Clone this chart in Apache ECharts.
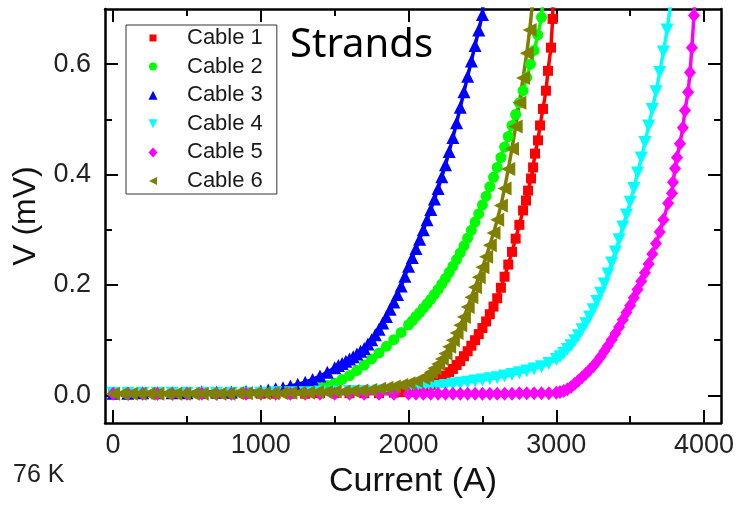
<!DOCTYPE html>
<html>
<head>
<meta charset="utf-8">
<script src="https://cdn.jsdelivr.net/npm/echarts@6/dist/echarts.min.js"></script>
<style>
  html, body { margin: 0; padding: 0; background: #fff; }
  #chart { width: 743px; height: 505px; }
</style>
</head>
<body>
<div id="chart"></div>
<script>
// V–I transition curves of six cables at 76 K: [current (A), voltage (mV)]
const seriesNames = ['Cable 1', 'Cable 2', 'Cable 3', 'Cable 4', 'Cable 5', 'Cable 6'];

const cable1 = [[0,0.003],[100,0.003],[200,0.003],[300,0.003],[400,0.003],[500,0.003],[600,0.003],[700,0.003],[800,0.003],[900,0.003],[1000,0.003],[1100,0.003],[1200,0.003],[1300,0.003],[1400,0.004],[1500,0.004],[1600,0.004],[1700,0.004],[1800,0.004],[1900,0.005],[1950,0.006],[2000,0.007],[2050,0.010],[2100,0.013],[2150,0.019],[2200,0.027],[2225,0.031],[2250,0.036],[2275,0.042],[2300,0.048],[2325,0.055],[2350,0.062],[2375,0.071],[2400,0.080],[2425,0.090],[2450,0.100],[2475,0.111],[2500,0.122],[2525,0.134],[2550,0.147],[2575,0.161],[2600,0.176],[2625,0.195],[2650,0.215],[2675,0.237],[2700,0.260],[2725,0.284],[2750,0.309],[2775,0.335],[2795,0.353],[2809,0.371],[2829,0.393],[2843,0.413],[2856,0.438],[2876,0.462],[2890,0.489],[2910,0.519],[2930,0.552],[2944,0.588],[2964,0.630],[2975,0.682],[2982,0.740]];

const cable2 = [[0,0.004],[100,0.004],[200,0.004],[300,0.004],[400,0.005],[500,0.005],[600,0.005],[700,0.005],[800,0.006],[900,0.006],[1000,0.006],[1100,0.007],[1200,0.008],[1300,0.009],[1350,0.011],[1400,0.014],[1450,0.018],[1500,0.022],[1550,0.029],[1600,0.036],[1650,0.045],[1700,0.055],[1750,0.066],[1800,0.077],[1850,0.089],[1900,0.101],[1950,0.114],[2000,0.128],[2025,0.135],[2050,0.143],[2075,0.150],[2100,0.158],[2125,0.166],[2150,0.174],[2175,0.183],[2200,0.192],[2225,0.202],[2250,0.212],[2275,0.223],[2300,0.234],[2325,0.246],[2350,0.258],[2375,0.271],[2400,0.285],[2425,0.299],[2450,0.314],[2475,0.329],[2500,0.345],[2525,0.361],[2550,0.378],[2575,0.395],[2600,0.413],[2625,0.431],[2650,0.450],[2675,0.469],[2700,0.489],[2725,0.509],[2750,0.530],[2775,0.552],[2800,0.576],[2825,0.600],[2850,0.625],[2875,0.653],[2900,0.685],[2915,0.740]];

const cable3 = [[0,0.004],[100,0.004],[200,0.005],[300,0.005],[400,0.005],[500,0.005],[600,0.006],[700,0.006],[800,0.006],[900,0.007],[1000,0.008],[1050,0.010],[1100,0.012],[1150,0.014],[1200,0.017],[1250,0.020],[1300,0.024],[1350,0.029],[1400,0.035],[1450,0.042],[1500,0.050],[1525,0.054],[1550,0.058],[1575,0.062],[1600,0.066],[1625,0.070],[1650,0.075],[1675,0.080],[1700,0.085],[1725,0.093],[1750,0.101],[1775,0.110],[1800,0.120],[1825,0.131],[1850,0.143],[1875,0.156],[1900,0.169],[1925,0.183],[1950,0.198],[1975,0.216],[2000,0.234],[2025,0.250],[2050,0.266],[2075,0.283],[2100,0.300],[2125,0.318],[2150,0.337],[2175,0.356],[2200,0.375],[2225,0.396],[2250,0.418],[2275,0.442],[2300,0.467],[2325,0.494],[2350,0.522],[2375,0.550],[2400,0.578],[2425,0.606],[2450,0.634],[2475,0.662],[2500,0.690],[2510,0.740]];

const cable4 = [[0,0.004],[100,0.004],[200,0.004],[300,0.004],[400,0.004],[500,0.004],[600,0.004],[700,0.004],[800,0.004],[900,0.004],[1000,0.004],[1100,0.005],[1200,0.005],[1300,0.005],[1400,0.006],[1500,0.006],[1600,0.007],[1700,0.007],[1800,0.008],[1900,0.009],[2000,0.010],[2050,0.011],[2100,0.013],[2150,0.014],[2200,0.016],[2250,0.018],[2300,0.020],[2350,0.022],[2400,0.024],[2450,0.026],[2500,0.028],[2550,0.030],[2600,0.032],[2650,0.035],[2700,0.038],[2750,0.041],[2800,0.044],[2850,0.048],[2900,0.052],[2950,0.058],[3000,0.065],[3025,0.070],[3050,0.076],[3075,0.083],[3100,0.090],[3125,0.099],[3150,0.108],[3175,0.119],[3200,0.130],[3225,0.142],[3250,0.155],[3275,0.170],[3300,0.185],[3325,0.202],[3350,0.220],[3375,0.240],[3400,0.260],[3425,0.282],[3450,0.305],[3475,0.327],[3500,0.350],[3525,0.375],[3550,0.403],[3575,0.430],[3600,0.458],[3625,0.488],[3650,0.518],[3675,0.550],[3700,0.585],[3725,0.622],[3750,0.662],[3790,0.740]];

const cable5 = [[0,0.003],[100,0.003],[200,0.003],[300,0.003],[400,0.003],[500,0.003],[600,0.003],[700,0.003],[800,0.003],[900,0.003],[1000,0.003],[1100,0.003],[1200,0.003],[1300,0.003],[1400,0.003],[1500,0.003],[1600,0.003],[1700,0.003],[1800,0.003],[1900,0.003],[2000,0.003],[2050,0.003],[2100,0.003],[2150,0.003],[2200,0.003],[2250,0.003],[2300,0.003],[2350,0.003],[2400,0.003],[2450,0.003],[2500,0.003],[2550,0.003],[2600,0.003],[2650,0.003],[2700,0.003],[2750,0.004],[2800,0.004],[2850,0.004],[2900,0.004],[2950,0.004],[3000,0.005],[3025,0.006],[3050,0.008],[3075,0.011],[3100,0.015],[3125,0.021],[3150,0.027],[3175,0.033],[3200,0.039],[3225,0.046],[3250,0.053],[3275,0.061],[3300,0.070],[3325,0.080],[3350,0.090],[3375,0.101],[3400,0.112],[3425,0.124],[3450,0.137],[3475,0.150],[3500,0.163],[3525,0.177],[3550,0.192],[3575,0.207],[3600,0.222],[3625,0.238],[3650,0.256],[3675,0.275],[3700,0.296],[3725,0.318],[3757,0.348],[3783,0.366],[3790,0.386],[3804,0.411],[3817,0.431],[3837,0.456],[3857,0.485],[3871,0.516],[3892,0.549],[3905,0.585],[3918,0.630],[3932,0.688],[3945,0.750]];

const cable6 = [[0,0.003],[60,0.003],[120,0.003],[180,0.003],[240,0.003],[300,0.003],[360,0.003],[420,0.003],[480,0.003],[540,0.003],[600,0.003],[660,0.003],[720,0.003],[780,0.003],[840,0.004],[900,0.004],[960,0.004],[1020,0.004],[1080,0.004],[1140,0.004],[1200,0.005],[1260,0.005],[1320,0.005],[1380,0.006],[1440,0.006],[1500,0.007],[1560,0.007],[1620,0.008],[1680,0.009],[1740,0.010],[1800,0.012],[1850,0.014],[1900,0.016],[1950,0.019],[2000,0.022],[2050,0.026],[2100,0.031],[2125,0.036],[2150,0.042],[2175,0.049],[2200,0.057],[2225,0.066],[2250,0.076],[2275,0.088],[2300,0.100],[2325,0.113],[2350,0.127],[2375,0.142],[2400,0.160],[2425,0.178],[2450,0.196],[2475,0.214],[2500,0.232],[2525,0.251],[2550,0.272],[2575,0.294],[2600,0.318],[2625,0.344],[2650,0.375],[2675,0.410],[2700,0.447],[2725,0.487],[2750,0.530],[2775,0.575],[2800,0.620],[2820,0.662],[2843,0.720]];

const cableData = [cable1, cable2, cable3, cable4, cable5, cable6];

// Axis ticks and ranges
const xMajorTicks = [0, 1000, 2000, 3000, 4000];
const xMinorTicks = [500, 1500, 2500, 3500];
const yMajorTicks = [0, 0.2, 0.4, 0.6];
const yMinorTicks = [0.1, 0.3, 0.5];
const xRange = [-55, 4115];
const yRange = [-0.05, 0.7];

// Marker appearance per cable
const colors = ['#ff0000', '#00ff00', '#0000ff', '#00ffff', '#ff00ff', '#808000'];
const symbols = [
  'rect',
  'circle',
  'triangle',
  'path://M0,0L10,0L5,10Z',
  'diamond',
  'path://M0,5L10,0L10,10Z'
];
const symbolSizes = [10, 11, 13, 13, [12, 14], 14];
const legendIcons = [
  'path://M0,0M34,10M1.5,1.5h7v7h-7z',
  'path://M0,0M34,10M9,5A4,4 0 1 1 1,5A4,4 0 1 1 9,5z',
  'path://M0,0M34,10M5,0.5L9.5,9.5H0.5z',
  'path://M0,0M34,10M0.5,0.5H9.5L5,9.5z',
  'path://M0,0M34,10M5,0L9.5,5L5,10L0.5,5z',
  'path://M0,0M34,10M1,5L9,1V9z'
];

const FONT = 'Liberation Sans, Arial, sans-serif';
const frame = { show: true, onZero: false, lineStyle: { color: '#000', width: 2.5 } };

function xAxisDef(position, ticks, len, showLine, labels) {
  return {
    type: 'value', position, min: xRange[0], max: xRange[1],
    axisLine: showLine ? frame : { show: false, onZero: false },
    splitLine: { show: false },
    axisTick: { show: true, inside: true, length: len, customValues: ticks,
                lineStyle: { color: '#000', width: 2 } },
    axisLabel: labels ? { show: true, customValues: ticks, fontSize: 27, fontFamily: FONT,
                          color: '#222', margin: 9, formatter: v => String(v) } : { show: false }
  };
}
function yAxisDef(position, ticks, len, showLine, labels) {
  return {
    type: 'value', position, min: yRange[0], max: yRange[1],
    axisLine: showLine ? frame : { show: false, onZero: false },
    splitLine: { show: false },
    axisTick: { show: true, inside: true, length: len, customValues: ticks,
                lineStyle: { color: '#000', width: 2 } },
    axisLabel: labels ? { show: true, customValues: ticks, fontSize: 27, fontFamily: FONT,
                          color: '#222', margin: 14, formatter: v => v.toFixed(1) } : { show: false }
  };
}

const xAxes = [
  Object.assign(xAxisDef('bottom', xMajorTicks, 13, true, true), {
    name: 'Current (A)', nameLocation: 'middle', nameGap: 42,
    nameTextStyle: { fontSize: 34, fontFamily: FONT, color: '#111' }
  }),
  xAxisDef('bottom', xMinorTicks, 7, false, false),
  xAxisDef('top', xMajorTicks, 13, true, false),
  xAxisDef('top', xMinorTicks, 7, false, false)
];
const yAxes = [
  Object.assign(yAxisDef('left', yMajorTicks, 13, true, true), {
    name: 'V (mV)', nameLocation: 'middle', nameGap: 60,
    nameTextStyle: { fontSize: 32, fontFamily: FONT, color: '#111' }
  }),
  yAxisDef('left', yMinorTicks, 7, false, false),
  yAxisDef('right', yMajorTicks, 13, true, false),
  yAxisDef('right', yMinorTicks, 7, false, false)
];

const series = seriesNames.map((name, i) => ({
  type: 'line',
  name,
  data: cableData[i],
  xAxisIndex: 0,
  yAxisIndex: 0,
  symbol: symbols[i],
  symbolSize: symbolSizes[i],
  showSymbol: true,
  clip: true,
  itemStyle: { color: colors[i] },
  lineStyle: { color: colors[i], width: 3.5 },
  emphasis: { disabled: true }
}));

const chart = echarts.init(document.getElementById('chart'), null, { renderer: 'canvas' });
chart.setOption({
  animation: false,
  backgroundColor: '#fff',
  grid: { left: 105, right: 22, top: 9, bottom: 82, containLabel: false },
  title: [
    { text: 'Strands', left: 290, top: 26, padding: 0,
      textStyle: { fontFamily: 'Noto Sans, sans-serif', fontSize: 40, fontWeight: 'normal', color: '#000' } },
    { text: '76 K', left: 13, top: 463, padding: 0,
      textStyle: { fontFamily: FONT, fontSize: 25, fontWeight: 'normal', color: '#222' } }
  ],
  legend: {
    orient: 'vertical', left: 126, top: 25,
    padding: [2, 14, 2, 22],
    itemWidth: 34, itemHeight: 10, itemGap: 6.6,
    borderColor: '#333', borderWidth: 1, backgroundColor: '#fff',
    selectedMode: false,
    textStyle: { fontSize: 22, lineHeight: 22, fontFamily: FONT, color: '#1a1a1a' },
    data: seriesNames.map((name, i) => ({ name, icon: legendIcons[i], itemStyle: { color: colors[i] } }))
  },
  xAxis: xAxes,
  yAxis: yAxes,
  series
});
</script>
</body>
</html>
